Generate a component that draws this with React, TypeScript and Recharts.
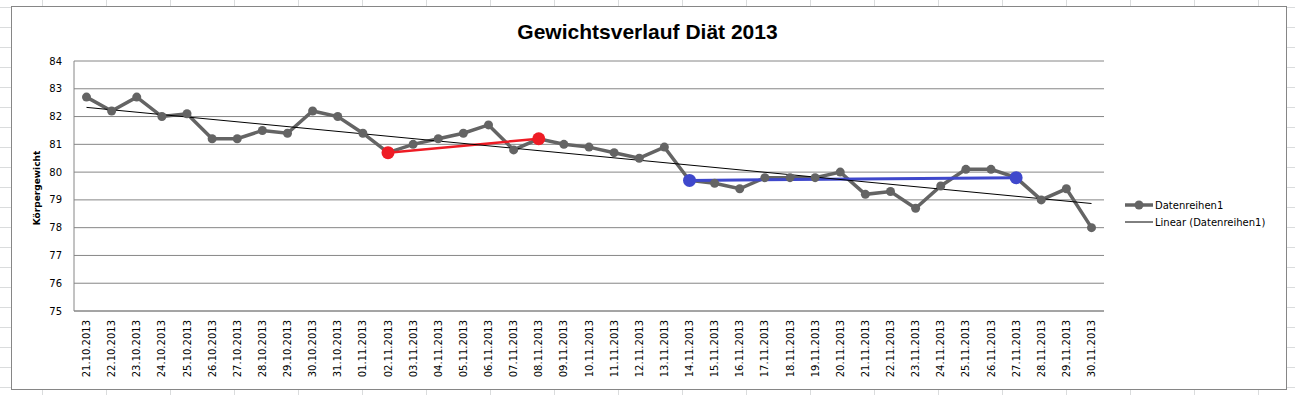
import { LineChart, Line, XAxis, YAxis, CartesianGrid } from 'recharts'

const dates = [
  '21.10.2013', '22.10.2013', '23.10.2013', '24.10.2013', '25.10.2013', '26.10.2013', '27.10.2013',
  '28.10.2013', '29.10.2013', '30.10.2013', '31.10.2013', '01.11.2013', '02.11.2013', '03.11.2013',
  '04.11.2013', '05.11.2013', '06.11.2013', '07.11.2013', '08.11.2013', '09.11.2013', '10.11.2013',
  '11.11.2013', '12.11.2013', '13.11.2013', '14.11.2013', '15.11.2013', '16.11.2013', '17.11.2013',
  '18.11.2013', '19.11.2013', '20.11.2013', '21.11.2013', '22.11.2013', '23.11.2013', '24.11.2013',
  '25.11.2013', '26.11.2013', '27.11.2013', '28.11.2013', '29.11.2013', '30.11.2013',
]

const weight = [
  82.7, 82.2, 82.7, 82.0, 82.1, 81.2, 81.2, 81.5, 81.4, 82.2, 82.0, 81.4, 80.7, 81.0,
  81.2, 81.4, 81.7, 80.8, 81.2, 81.0, 80.9, 80.7, 80.5, 80.9, 79.7, 79.6, 79.4, 79.8,
  79.8, 79.8, 80.0, 79.2, 79.3, 78.7, 79.5, 80.1, 80.1, 79.8, 79.0, 79.4, 78.0,
]

// hervorgehobene Abschnitte (nur Anfangs- und Endpunkt)
const redSegment: Record<string, number> = { '02.11.2013': 80.7, '08.11.2013': 81.2 }
const blueSegment: Record<string, number> = { '14.11.2013': 79.7, '27.11.2013': 79.8 }
// lineare Trendlinie, Endpunkte
const trend: Record<string, number> = { '21.10.2013': 82.33, '30.11.2013': 78.87 }

const yTicks = [75, 76, 77, 78, 79, 80, 81, 82, 83, 84]

const data = dates.map((d, i) => ({
  date: d,
  weight: weight[i],
  red: redSegment[d] ?? null,
  blue: blueSegment[d] ?? null,
  trend: trend[d] ?? null,
}))

const font = '"DejaVu Sans", Verdana, sans-serif'

function DateTick({ x, y, payload }: any) {
  return (
    <text
      x={x}
      y={y}
      transform={`rotate(-90 ${x} ${y})`}
      textAnchor="end"
      dy="0.35em"
      fontSize={10}
      fontFamily={font}
      fill="#000"
    >
      {payload.value}
    </text>
  )
}

function bigDot(color: string) {
  return (p: any) =>
    p.value == null ? (
      <g key={p.index} />
    ) : (
      <circle key={p.index} cx={p.cx} cy={p.cy} r={6.5} fill={color} stroke="none" />
    )
}

export default function App() {
  return (
    <div
      style={{
        position: 'fixed',
        left: 0,
        top: 0,
        width: 1295,
        height: 395,
        background: '#fff',
        backgroundImage:
          'linear-gradient(to right, #dadcdd 1px, transparent 1px), linear-gradient(to bottom, #dadcdd 1px, transparent 1px)',
        backgroundSize: '64px 20px',
        backgroundPosition: '42px 7px',
        fontFamily: font,
      }}
    >
      <div
        style={{
          position: 'absolute',
          left: 11,
          top: 6,
          width: 1276,
          height: 384,
          boxSizing: 'border-box',
          border: '1px solid #868686',
          background: '#fff',
        }}
      >
        <LineChart width={1274} height={382} data={data} margin={{ top: 54, right: 182, bottom: 0, left: 0 }}>
          <CartesianGrid vertical={false} stroke="#868686" />
          <XAxis
            dataKey="date"
            interval={0}
            height={78}
            padding={{ left: 12.5, right: 12.5 }}
            tickLine={false}
            tickSize={0}
            tickMargin={9}
            axisLine={{ stroke: '#868686' }}
            tick={<DateTick />}
          />
          <YAxis
            domain={[75, 84]}
            ticks={yTicks}
            interval={0}
            width={62}
            tickLine={false}
            tickSize={0}
            tickMargin={12}
            axisLine={{ stroke: '#868686' }}
            tick={{ fontSize: 10, fill: '#000', fontFamily: font }}
          />
          <Line
            dataKey="weight"
            stroke="#646464"
            strokeWidth={3.5}
            dot={{ r: 4.5, fill: '#646464', stroke: 'none' }}
            isAnimationActive={false}
          />
          <Line
            dataKey="red"
            stroke="#ee1c25"
            strokeWidth={2.5}
            connectNulls
            dot={bigDot('#ee1c25')}
            isAnimationActive={false}
          />
          <Line
            dataKey="blue"
            stroke="#3f48cc"
            strokeWidth={3}
            connectNulls
            dot={bigDot('#3f48cc')}
            isAnimationActive={false}
          />
          <Line
            dataKey="trend"
            stroke="#000"
            strokeWidth={1}
            connectNulls
            dot={false}
            isAnimationActive={false}
          />
        </LineChart>
      </div>

      {/* Titel */}
      <div
        style={{
          position: 'absolute',
          left: 0,
          width: 1295,
          top: 19,
          textAlign: 'center',
          fontFamily: '"Liberation Sans", Arial, sans-serif',
          fontSize: 21,
          fontWeight: 700,
          lineHeight: '26px',
          color: '#000',
        }}
      >
        <span style={{ marginLeft: 0 }}>Gewichtsverlauf Diät 2013</span>
      </div>

      {/* Achsentitel */}
      <div
        style={{
          position: 'absolute',
          left: 37,
          top: 188,
          transform: 'translate(-50%, -50%) rotate(-90deg)',
          fontSize: 9,
          fontWeight: 700,
          whiteSpace: 'nowrap',
        }}
      >
        Körpergewicht
      </div>

      {/* Legende */}
      <div style={{ position: 'absolute', left: 1125, top: 197, fontSize: 10, color: '#000' }}>
        <div style={{ display: 'flex', alignItems: 'center', height: 16 }}>
          <svg width={28} height={12} style={{ marginRight: 2 }}>
            <line x1={0} y1={6} x2={28} y2={6} stroke="#646464" strokeWidth={3.5} />
            <circle cx={14} cy={6} r={4.5} fill="#646464" />
          </svg>
          <span>Datenreihen1</span>
        </div>
        <div style={{ display: 'flex', alignItems: 'center', height: 16, marginTop: 1 }}>
          <svg width={28} height={12} style={{ marginRight: 2 }}>
            <line x1={0} y1={6} x2={28} y2={6} stroke="#000" strokeWidth={1} />
          </svg>
          <span>Linear (Datenreihen1)</span>
        </div>
      </div>
    </div>
  )
}
